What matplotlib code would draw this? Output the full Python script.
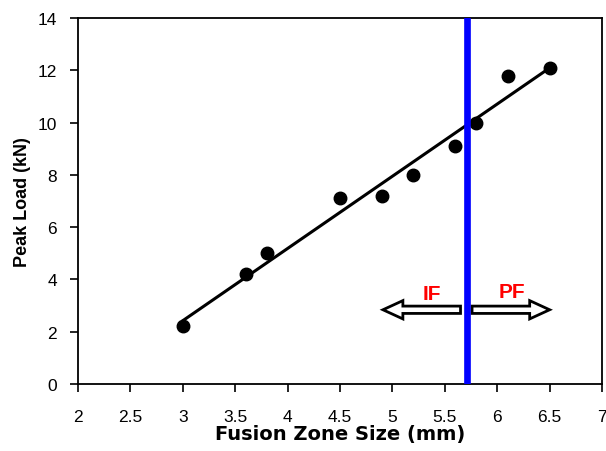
import numpy as np
import matplotlib
matplotlib.use("Agg")
import matplotlib.pyplot as plt
import matplotlib.patches as mpatches

plt.rcParams['font.family'] = ['Liberation Sans', 'DejaVu Sans']

# measured data
fusion_zone = [3.0, 3.6, 3.8, 4.5, 4.9, 5.2, 5.6, 5.8, 6.1, 6.5]
peak_load = [2.2, 4.2, 5.0, 7.1, 7.2, 8.0, 9.1, 10.0, 11.8, 12.1]

# IF / PF transition
transition_x = 5.71
if_arrow = (5.65, 4.91)   # start, end (points left)
pf_arrow = (5.76, 6.50)   # start, end (points right)
arrow_y = 2.84

fig = plt.figure(figsize=(6.06, 4.52), dpi=100)
ax = fig.add_axes([0.1287, 0.1482, 0.8647, 0.8098])

ax.plot(fusion_zone, peak_load, 'o', color='black', markersize=9, zorder=3)

# linear trend line
coef = np.polyfit(fusion_zone, peak_load, 1)
xs = np.array([min(fusion_zone), max(fusion_zone)])
ax.plot(xs, np.polyval(coef, xs), color='black', lw=2.2, zorder=2)

ax.axvline(transition_x, color='#0000ff', lw=4.8, zorder=4)

for start, end in [if_arrow, pf_arrow]:
    arr = mpatches.FancyArrow(start, arrow_y, end - start, 0, width=0.28,
                              head_width=0.7, head_length=0.19,
                              length_includes_head=True,
                              fc='white', ec='black', lw=2.0, zorder=3)
    ax.add_patch(arr)

ax.text(5.38, 3.47, 'IF', color='red', fontsize=15, fontweight='bold',
        ha='center', va='center')
ax.text(6.14, 3.55, 'PF', color='red', fontsize=15, fontweight='bold',
        ha='center', va='center')

ax.set_xlim(2, 7)
ax.set_ylim(0, 14)
ax.set_xticks(np.arange(2, 7.01, 0.5))
ax.set_xticklabels(['2', '2.5', '3', '3.5', '4', '4.5', '5', '5.5', '6', '6.5', '7'])
ax.set_yticks(range(0, 15, 2))
ax.tick_params(direction='out', length=6, width=1.2, labelsize=12.5)
ax.tick_params(axis='x', pad=12)
ax.tick_params(axis='y', pad=9)
for s in ax.spines.values():
    s.set_linewidth(1.3)

ax.set_xlabel('Fusion Zone Size (mm)', fontsize=14, fontweight='bold',
              family='DejaVu Sans', labelpad=0)
ax.set_ylabel('Peak Load (kN)', fontsize=13, fontweight='bold', labelpad=5)

fig.savefig('out.png', dpi=100)
